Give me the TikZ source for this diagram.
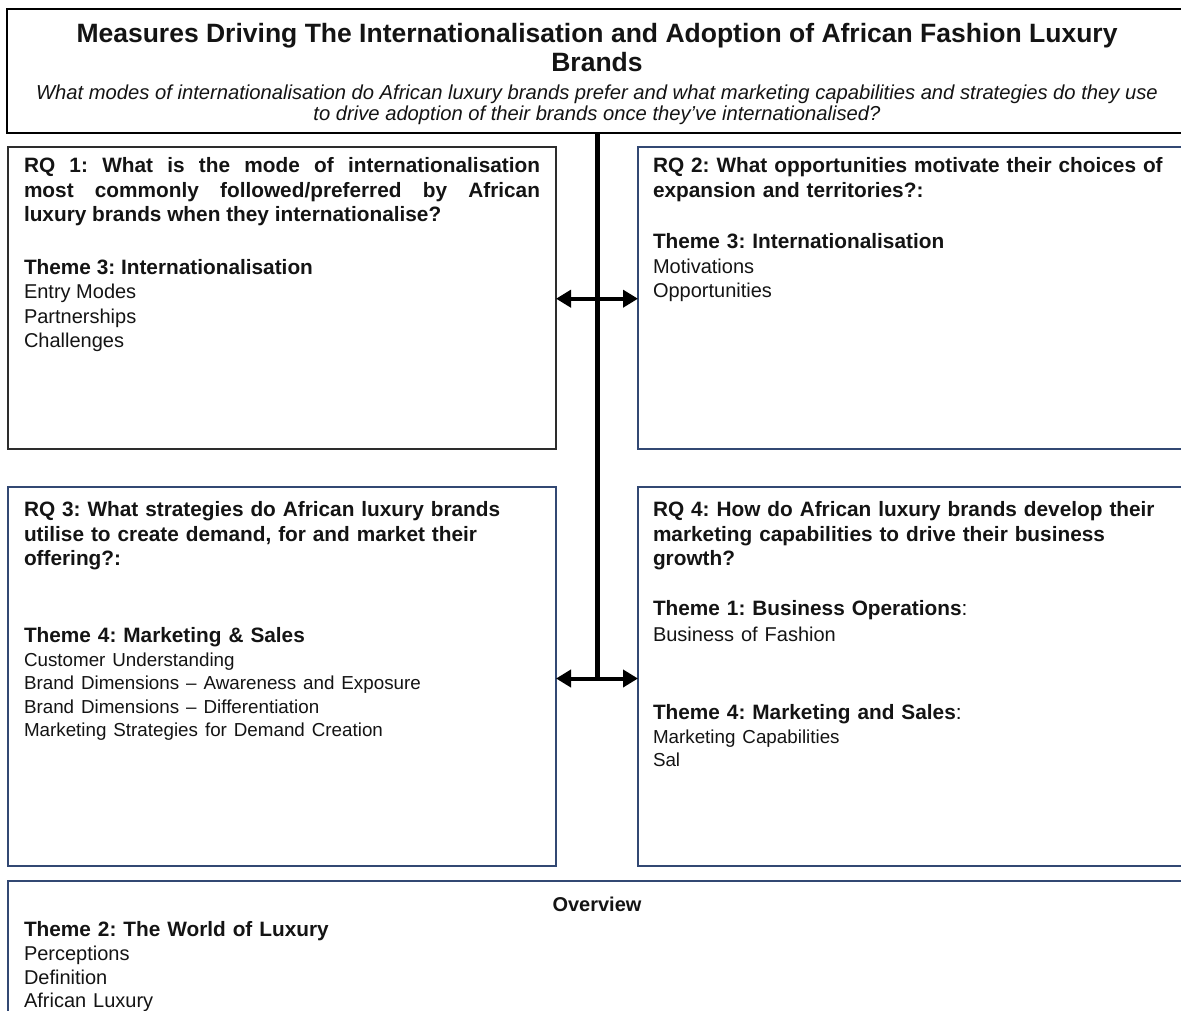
\documentclass[tikz,border=0pt]{standalone}
\usepackage{fontspec}
\setmainfont{Liberation Sans}
\usetikzlibrary{arrows.meta}
\definecolor{navy}{RGB}{50,72,115}
\definecolor{ink}{RGB}{20,20,20}
\definecolor{darkedge}{RGB}{45,45,45}
\newcommand{\smallitems}{\fontsize{18.8}{23.4}\selectfont}
\newcommand{\itemsize}{\fontsize{20}{24.5}\selectfont}
\frenchspacing
\begin{document}
\frenchspacing
\begin{tikzpicture}[x=1pt,y=-1pt,
  box/.style={draw=navy,line width=1.8pt,anchor=north west,inner sep=0pt,outer sep=0pt},
  txt/.style={anchor=north west,inner sep=0pt,outer sep=0pt,text=ink,text width=#1,align=left},
  txt/.default=520,
  rqfont/.style={font=\fontsize{20.8}{24.6}\selectfont},
  biarrow/.style={line width=4pt,{Triangle[length=15pt,width=17pt]}-{Triangle[length=15pt,width=17pt]}},
  spine/.style={line width=5pt,line cap=butt}]
\clip (0,0) rectangle (1181,1011);
\fill[white] (0,0) rectangle (1181,1011);

% boxes
\node[box,draw=black,line width=2pt,minimum width=1200,minimum height=124] (title) at (7,9) {};
\node[box,draw=darkedge,minimum width=548,minimum height=302] (rq1) at (8,147) {};
\node[box,minimum width=600,minimum height=302] (rq2) at (638,147) {};
\node[box,minimum width=548,minimum height=379] (rq3) at (8,487) {};
\node[box,minimum width=600,minimum height=379] (rq4) at (638,487) {};
\node[box,minimum width=1200,minimum height=160] (ov) at (8,881) {};

% title texts
\node[inner sep=0pt,align=center,text=ink,font=\bfseries\fontsize{26.5}{29}\selectfont] (ttl) at (597,48)
  {Measures Driving The Internationalisation and Adoption of African Fashion Luxury\\Brands};
\node[inner sep=0pt,align=center,text=ink,font=\itshape\fontsize{20.2}{21.5}\selectfont] (sub) at (597,105)
  {What modes of internationalisation do African luxury brands prefer and what marketing capabilities and strategies do they use\\to drive adoption of their brands once they’ve internationalised?};

% connectors
\coordinate (vtop) at (597,133);
\coordinate (vbot) at (597,678.5);
\draw[spine] (vtop) -- (vbot);
\draw[biarrow] ([yshift=-0.7pt]rq1.east) -- ([yshift=-0.7pt]rq2.west);
\draw[biarrow] ([yshift=-2pt]rq3.east) -- ([yshift=-2pt]rq4.west);

% RQ1
\node[txt=516,rqfont,align=justify] (t1) at (24,157.5)
  {\textbf{RQ 1: What is the mode of internationalisation\linebreak most commonly followed/preferred by African\linebreak luxury brands when they internationalise?}\par\vspace{28pt}
   \textbf{Theme 3: Internationalisation}\par
   {\itemsize Entry Modes\par
   Partnerships\par
   Challenges\par}};

% RQ2
\node[txt=540,rqfont] (t2) at (653,157.5)
  {\textbf{RQ 2: What opportunities motivate their choices of}\par
   \textbf{expansion and territories?:}\par\vspace{27pt}
   \textbf{Theme 3: Internationalisation}\par
   {\itemsize Motivations\par
   Opportunities\par}};

% RQ3
\node[txt=540,rqfont] (t3) at (24,501.5)
  {\textbf{RQ 3: What strategies do African luxury brands}\par
   \textbf{utilise to create demand, for and market their}\par
   \textbf{offering?:}\par\vspace{52pt}
   \textbf{Theme 4: Marketing \& Sales}\par\vspace{0.8pt}
   {\smallitems Customer Understanding\par
   Brand Dimensions – Awareness and Exposure\par
   Brand Dimensions – Differentiation\par
   Marketing Strategies for Demand Creation\par}};

% RQ4
\node[txt=540,rqfont] (t4) at (653,501.5)
  {\textbf{RQ 4: How do African luxury brands develop their}\par
   \textbf{marketing capabilities to drive their business}\par
   \textbf{growth?}\par\vspace{25pt}
   \textbf{Theme 1: Business Operations}:\par\vspace{2pt}
   {\itemsize Business of Fashion\par}\vspace{53.5pt}
   \textbf{Theme 4: Marketing and Sales}:\par
   {\smallitems Marketing Capabilities\par
   Sal\par}};

% Overview
\node[inner sep=0pt,text=ink,font=\bfseries\fontsize{20}{22}\selectfont] (ovt) at (597,904) {Overview};
\node[txt=560,font=\fontsize{20.8}{23.8}\selectfont] (t5) at (24,921)
  {\textbf{Theme 2: The World of Luxury}\par\vspace{1.5pt}
   {\itemsize\baselineskip=23.4pt Perceptions\par
   Definition\par
   African Luxury\par}};
\end{tikzpicture}
\end{document}
